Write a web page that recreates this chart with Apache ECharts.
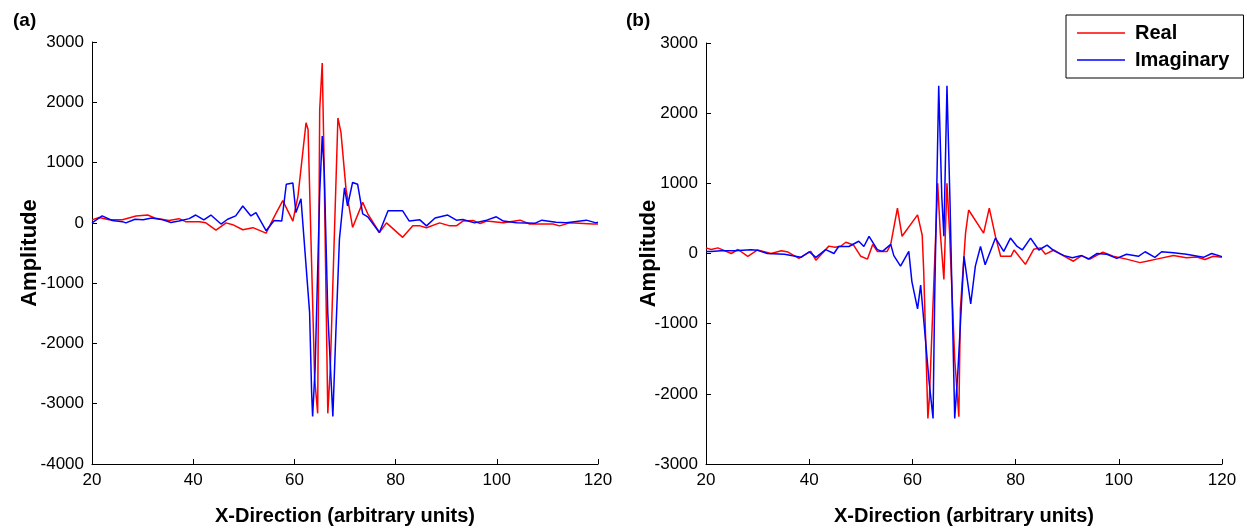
<!DOCTYPE html>
<html>
<head>
<meta charset="utf-8">
<script src="https://cdn.jsdelivr.net/npm/echarts@6/dist/echarts.min.js"></script>
<style>
html,body{margin:0;padding:0;background:#fff;}
#chart{width:1247px;height:531px;}
</style>
</head>
<body>
<div id="chart"></div>
<script>
// Panel (a)
const aRealX = [20,21.4,23.4,26,28.7,31,32.6,35.2,37.2,38.5,41.2,42.5,44.5,46.5,47.8,49.8,51.8,54.4,56,57.7,59.7,60.7,62.3,62.7,64,64.6,65,65.5,65.8,66.6,67.1,68.6,69.2,70.2,71.5,73.5,74.5,76.8,78.2,81.4,83.4,84.8,86.1,88.7,90.7,92,93.3,95.3,96.7,98,101.3,104.6,106.5,111.1,112.4,114.4,119,120];
const aRealY = [50,90,50,50,115,130,75,40,70,20,20,0,-120,0,-30,-115,-80,-170,100,370,30,440,1660,1550,-2580,-3160,1880,2650,1300,-3160,-2400,1740,1500,560,-76,340,150,-160,0,-240,-50,-50,-80,0,-50,-50,30,40,-10,30,0,45,-20,-20,-50,0,-20,-20];
const aImagX = [20,22,24,26,26.7,28.5,30.1,31.8,34,35.6,37.2,39.2,40.5,42.1,43.5,45.5,46.8,48.4,49.8,51.4,52.4,54.4,56,57.5,58.4,59.7,60.3,61.3,63,63.4,63.6,64.1,65,65.5,65.9,66.6,67.6,68.2,68.9,69.9,70.5,71.5,72.5,73.5,74.5,76.8,78.5,81.4,82.7,84.8,86.1,87.8,90.3,92,93.3,95.6,98,99.9,101.3,103.9,107.6,108.9,111.7,113.7,117.7,119.6,120];
const aImagY = [0,115,40,20,0,60,50,80,50,5,30,70,130,50,130,-20,60,115,280,115,170,-130,40,30,640,660,170,400,-1480,-2800,-3210,-2400,500,1440,850,-1500,-3210,-1800,-270,580,280,670,640,150,100,-160,200,200,30,50,-50,80,130,45,55,0,45,100,30,0,-5,45,10,0,45,0,10];
// Panel (b)
const bRealX = [20,21,22.3,24.9,26.2,28.1,30,32.6,34.6,35.9,38,40.3,41.3,43.8,45,46.1,47.1,48.6,50,51.3,52.3,53.2,55.1,55.8,57.1,58,61,61.9,62.2,63,63.3,64.9,65.4,66.1,66.7,67.2,68.2,69,69.3,70.3,70.9,73.8,74.9,76.1,77.1,79.1,79.7,81.9,83.5,84.8,85.8,87.4,88.7,91.2,92.8,94.4,96.9,98.9,101.5,104.1,105.4,107.3,110.6,113.1,115.1,116.7,118.3,120];
const bRealY = [80,57,80,0,57,-40,50,0,40,20,-70,30,-95,105,90,103,160,120,-40,-80,130,30,30,130,646,245,550,260,-270,-2350,-2050,1000,300,-370,1000,300,-1500,-2325,-790,290,620,290,646,240,-40,-40,50,-155,60,80,-10,50,-10,-110,-30,-80,20,-40,-80,-130,-110,-80,-30,-60,-50,-85,-40,-55];
const bImagX = [20,21,22.9,25.5,28.7,30,31.9,35.2,38.4,40,41.3,43.2,44.8,45.7,47.7,49.6,50.6,51.6,53.2,54.2,55.8,56.4,57.7,59.3,59.9,61,61.6,62.5,63.2,64,64.3,65.1,65.7,66.1,66.7,67.3,68.2,68.8,70,71.3,72.2,73.2,74.1,76.1,77.7,79,80.3,81.3,82.9,84.5,86.1,87.4,89.4,91,92.8,94.1,95.8,97.7,99.6,101.5,103.8,105.1,107,108.3,110.6,113.1,116.4,118,120];
const bImagY = [30,30,40,40,55,45,0,-10,-55,25,-55,55,0,100,100,175,100,245,55,30,130,-30,-180,30,-400,-790,-450,-1200,-1800,-2350,-700,2390,800,245,2390,700,-2350,-1700,-40,-720,-180,100,-160,220,30,220,100,50,220,50,120,40,-30,-60,-30,-80,0,-10,-70,-10,-40,25,-55,25,10,-10,-55,0,-45];
// Axis settings
const xTicks = {min: 20, max: 120, interval: 20};
const aYTicks = {min: -4000, max: 3000, interval: 1000};
const bYTicks = {min: -3000, max: 3000, interval: 1000};
const seriesNames = ['Real', 'Imaginary'];
const panelLabels = ['(a)', '(b)'];
const xTitle = 'X-Direction (arbitrary units)';
const yTitle = 'Amplitude';

const pairs = (xs, ys) => xs.map((x, i) => [x, ys[i]]);
const FONT = '"Liberation Sans", Arial, sans-serif';
const plain = v => String(v);

function xAxis(idx) {
  return {
    type: 'value', gridIndex: idx, min: xTicks.min, max: xTicks.max, interval: xTicks.interval,
    name: xTitle, nameLocation: 'middle', nameGap: 42, nameMoveOverlap: false,
    nameTextStyle: {fontFamily: FONT, fontWeight: 'bold', fontSize: 20, color: '#000'},
    axisLine: {show: true, onZero: false, lineStyle: {color: '#000', width: 1}},
    axisTick: {show: true, inside: true, length: 5, lineStyle: {color: '#000'}},
    axisLabel: {fontFamily: FONT, fontSize: 17, color: '#000', margin: 8, formatter: plain},
    splitLine: {show: false}
  };
}
function yAxis(idx, t, gap) {
  return {
    type: 'value', gridIndex: idx, min: t.min, max: t.max, interval: t.interval,
    name: yTitle, nameLocation: 'middle', nameGap: gap, nameMoveOverlap: false,
    nameTextStyle: {fontFamily: FONT, fontWeight: 'bold', fontSize: 22, color: '#000'},
    axisLine: {show: true, onZero: false, lineStyle: {color: '#000', width: 1}},
    axisTick: {show: true, inside: true, length: 5, lineStyle: {color: '#000'}},
    axisLabel: {fontFamily: FONT, fontSize: 17, color: '#000', margin: 8, formatter: plain},
    splitLine: {show: false}
  };
}
function line(name, idx, data, color) {
  return {
    name: name, type: 'line', xAxisIndex: idx, yAxisIndex: idx, data: data,
    showSymbol: false, symbol: 'none', animation: false,
    lineStyle: {color: color, width: 1.5}, itemStyle: {color: color}
  };
}

const chart = echarts.init(document.getElementById('chart'), null, {renderer: 'canvas'});
chart.setOption({
  backgroundColor: '#fff',
  animation: false,
  title: [
    {text: panelLabels[0], left: 8, top: 6, textStyle: {fontFamily: FONT, fontWeight: 'bold', fontSize: 19, color: '#000'}},
    {text: panelLabels[1], left: 621, top: 6, textStyle: {fontFamily: FONT, fontWeight: 'bold', fontSize: 19, color: '#000'}}
  ],
  grid: [
    {left: 92, top: 42, width: 506, height: 424},
    {left: 706, top: 43, width: 516, height: 426}
  ],
  legend: {
    data: seriesNames, orient: 'vertical', left: 1066, top: 15,
    itemWidth: 48, itemHeight: 14, itemGap: 7,
    padding: [8, 14, 8, 11],
    borderColor: '#000', borderWidth: 1, backgroundColor: '#fff',
    icon: 'path://M0,6 L48,6 L48,7.5 L0,7.5 Z',
    textStyle: {fontFamily: FONT, fontWeight: 'bold', fontSize: 20, color: '#000', lineHeight: 20, padding: [0, 0, 0, 5]}
  },
  xAxis: [xAxis(0), xAxis(1)],
  yAxis: [yAxis(0, aYTicks, 51), yAxis(1, bYTicks, 46)],
  series: [
    line(seriesNames[0], 0, pairs(aRealX, aRealY), '#ff0000'),
    line(seriesNames[1], 0, pairs(aImagX, aImagY), '#0000ff'),
    line(seriesNames[0], 1, pairs(bRealX, bRealY), '#ff0000'),
    line(seriesNames[1], 1, pairs(bImagX, bImagY), '#0000ff')
  ]
});
</script>
</body>
</html>
